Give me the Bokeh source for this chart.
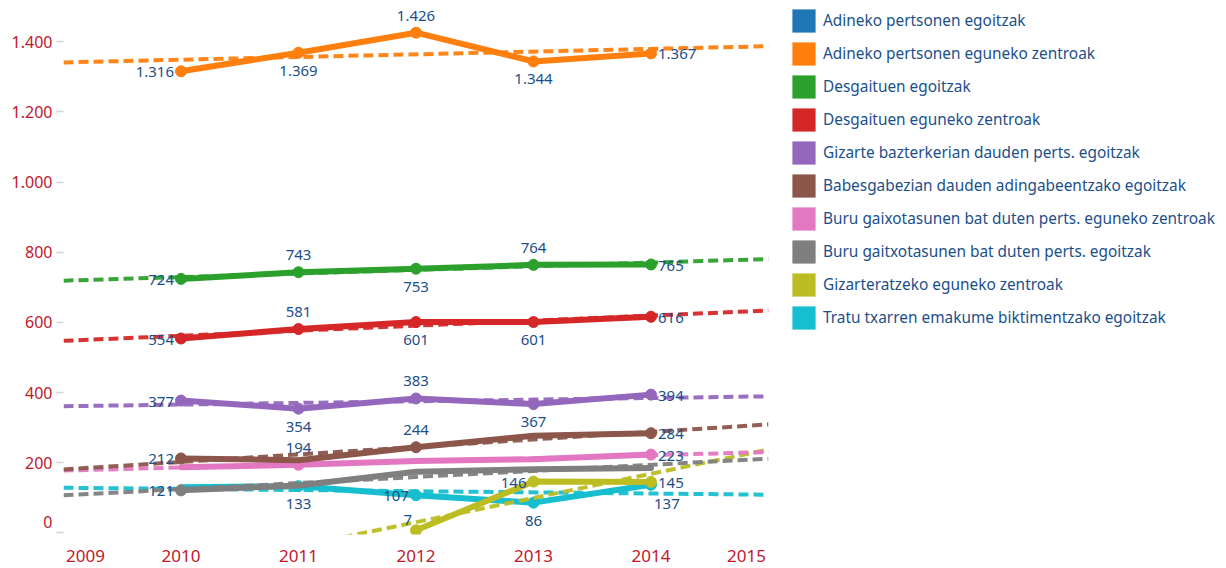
import numpy as np
from bokeh.plotting import figure
from bokeh.layouts import row
from bokeh.models import (ColumnDataSource, Legend, LegendItem, FixedTicker,
                          LinearAxis, Range1d)
from bokeh.embed import file_html
from bokeh.resources import INLINE
from bokeh.core.properties import value

# ---------------- data ----------------
years = [2010, 2011, 2012, 2013, 2014]

series_names = [
    "Adineko pertsonen egoitzak",
    "Adineko pertsonen eguneko zentroak",
    "Desgaituen egoitzak",
    "Desgaituen eguneko zentroak",
    "Gizarte bazterkerian dauden perts. egoitzak",
    "Babesgabezian dauden adingabeentzako egoitzak",
    "Buru gaixotasunen bat duten perts. eguneko zentroak",
    "Buru gaitxotasunen bat duten perts. egoitzak",
    "Gizarteratzeko eguneko zentroak",
    "Tratu txarren emakume biktimentzako egoitzak",
]

adineko_egoitzak = [None, None, None, None, None]
adineko_eguneko = [1316, 1369, 1426, 1344, 1367]
desgaituen_egoitzak = [724, 743, 753, 764, 765]
desgaituen_eguneko = [554, 581, 601, 601, 616]
gizarte_bazterkeria = [377, 354, 383, 367, 394]
babesgabezia = [212, 207, 244, 277, 284]
buru_eguneko = [187, 194, 205, 210, 223]
buru_egoitzak = [121, 135, 174, 181, 185]
gizarteratzeko = [None, None, 7, 146, 145]
tratu_txarrak = [130, 133, 107, 86, 137]

series_values = [adineko_egoitzak, adineko_eguneko, desgaituen_egoitzak,
                 desgaituen_eguneko, gizarte_bazterkeria, babesgabezia,
                 buru_eguneko, buru_egoitzak, gizarteratzeko, tratu_txarrak]

# label placement per point (None = no label / no marker)
place_adineko_egoitzak = [None] * 5
place_adineko_eguneko = ["left", "below", "above", "below", "right"]
place_desgaituen_egoitzak = ["left", "above", "below", "above", "right"]
place_desgaituen_eguneko = ["left", "above", "below", "below", "right"]
place_gizarte = ["left", "below", "above", "below", "right"]
place_babesgabezia = ["left", None, "above", None, "right"]
place_buru_eguneko = [None, "above", None, None, "right"]
place_buru_egoitzak = ["left", None, None, None, None]
place_gizarteratzeko = [None, None, "aboveleft", "left", "right"]
place_tratu = [None, "below", "left", "below", "belowright"]

series_places = [place_adineko_egoitzak, place_adineko_eguneko,
                 place_desgaituen_egoitzak, place_desgaituen_eguneko,
                 place_gizarte, place_babesgabezia, place_buru_eguneko,
                 place_buru_egoitzak, place_gizarteratzeko, place_tratu]

colors = ["#1f77b4", "#ff7f0e", "#2ca02c", "#d62728", "#9467bd",
          "#8c564b", "#e377c2", "#7f7f7f", "#bcbd22", "#17becf"]

x_tick_values = [2009, 2010, 2011, 2012, 2013, 2014, 2015]
x_tick_labels = ["2009", "2010", "2011", "2012", "2013", "2014", "2015"]
y_tick_values = [0, 200, 400, 600, 800, 1000, 1200, 1400]
y_tick_labels = ["0", "200", "400", "600", "800", "1.000", "1.200", "1.400"]

# ---------------- style ----------------
FONT = "Noto Sans"
AXIS_RED = "#c1172c"
LABEL_BLUE = "#1b4f8a"

W, H = 1226, 568
FRAME_L, FRAME_W, FRAME_R_BORDER = 63, 705, 2
FRAME_H = 534
MAIN_W = FRAME_L + FRAME_W + FRAME_R_BORDER
X0, X1 = 2009, 2015
Y0, Y1 = -4.85, 1517.8
EDGE_LABEL_SHIFT_PX = 22      # edge tick labels are pulled inside the plot
ZERO_LABEL_LIFT_PX = 10.5

placement_style = {
    "left": (-7, 1, "right"),
    "right": (7, 1, "left"),
    "above": (0, -17, "center"),
    "below": (0, 18, "center"),
    "aboveleft": (-4, -10, "right"),
    "belowright": (3, 19, "left"),
}

p = figure(width=MAIN_W, height=H, output_backend="svg", toolbar_location=None,
           x_range=Range1d(X0, X1), y_range=Range1d(Y0, Y1),
           min_border_left=FRAME_L, min_border_right=FRAME_R_BORDER,
           min_border_top=0, min_border_bottom=H - FRAME_H)
p.outline_line_color = None
p.grid.grid_line_color = None
p.background_fill_color = "white"

# separate panel that only holds the legend
pl = figure(width=W - MAIN_W, height=H, output_backend="svg", toolbar_location=None,
            x_range=Range1d(0, 1), y_range=Range1d(0, 1),
            x_axis_location=None, y_axis_location=None,
            min_border_left=13, min_border_right=0, min_border_top=0,
            min_border_bottom=0)
pl.outline_line_color = None
pl.grid.grid_line_color = None


def fmt(v):
    return f"{v:,}".replace(",", ".")


legend_items = []
for name, vals, col in zip(series_names, series_values, colors):
    # zero-size bars: only used to give the legend its colour swatch
    yv = [np.nan if v is None else v for v in vals]
    leg = pl.vbar(x=years, top=yv, bottom=yv, width=0, fill_color=col, line_color=None)
    legend_items.append(LegendItem(label=name, renderers=[leg]))

lab_x, lab_y, lab_t, lab_xo, lab_yo, lab_al = [], [], [], [], [], []
# earlier series are drawn on top, as in the original
for name, vals, places, col in reversed(list(zip(series_names, series_values,
                                                 series_places, colors))):
    xs = [x for x, v in zip(years, vals) if v is not None]
    ys = [v for v in vals if v is not None]
    if len(xs) < 2:
        continue
    p.line(xs, ys, line_color=col, line_width=6, line_join="round", line_cap="round")
    k, b = np.polyfit(xs, ys, 1)
    tx = [X0, X1]
    p.line(tx, [k * t + b for t in tx], line_color=col, line_width=4,
           line_dash="10 5", line_alpha=0.95)
    mx = [x for x, v, pl_ in zip(years, vals, places) if v is not None and pl_]
    my = [v for v, pl_ in zip(vals, places) if v is not None and pl_]
    p.scatter(mx, my, size=11, fill_color=col, line_color=col)
    for x, v, pl_ in zip(years, vals, places):
        if v is None or not pl_:
            continue
        xo, yo, al = placement_style[pl_]
        lab_x.append(x); lab_y.append(v); lab_t.append(fmt(v))
        lab_xo.append(xo); lab_yo.append(yo); lab_al.append(al)

lsrc = ColumnDataSource(dict(x=lab_x, y=lab_y, t=lab_t, xo=lab_xo, yo=lab_yo, al=lab_al))
p.text(x="x", y="y", text="t", x_offset="xo", y_offset="yo", text_align="al",
       text_baseline="middle", source=lsrc, text_color=LABEL_BLUE,
       text_font=value(FONT), text_font_size="15px")

# ---- x axis (edge labels pulled inward like the original) ----
x_px = FRAME_W / (X1 - X0)
x_label_pos = list(x_tick_values)
x_label_pos[0] = x_tick_values[0] + EDGE_LABEL_SHIFT_PX / x_px
x_label_pos[-1] = x_tick_values[-1] - EDGE_LABEL_SHIFT_PX / x_px
p.xaxis.ticker = FixedTicker(ticks=x_label_pos)
p.xaxis.major_label_overrides = dict(zip(x_label_pos, x_tick_labels))
p.xaxis.axis_line_color = None
p.xaxis.major_tick_line_color = None
p.xaxis.minor_tick_line_color = None
p.xaxis.major_tick_out = 0
p.xaxis.major_tick_in = 0
p.xaxis.major_label_standoff = 15
p.xaxis.major_label_text_line_height = 1.0
p.xaxis.major_label_text_color = AXIS_RED
p.xaxis.major_label_text_font = FONT
p.xaxis.major_label_text_font_size = "17px"

# ---- y axis: tick marks only ----
p.yaxis.ticker = FixedTicker(ticks=y_tick_values)
p.yaxis.major_label_overrides = {v: "" for v in y_tick_values}
p.yaxis.axis_line_color = None
p.yaxis.minor_tick_line_color = None
p.yaxis.major_tick_line_color = "#d4d4d4"
p.yaxis.major_tick_line_width = 1.5
p.yaxis.major_tick_out = 7
p.yaxis.major_tick_in = 0
p.yaxis.major_label_standoff = 0

# ---- y axis labels (bottom label lifted inside the plot) ----
y_px = FRAME_H / (Y1 - Y0)
y_label_pos = list(y_tick_values)
y_label_pos[0] = y_tick_values[0] + ZERO_LABEL_LIFT_PX / y_px
ylab = LinearAxis(ticker=FixedTicker(ticks=y_label_pos),
                  major_label_overrides=dict(zip(y_label_pos, y_tick_labels)),
                  axis_line_color=None, major_tick_line_color=None,
                  minor_tick_line_color=None, major_tick_out=0, major_tick_in=0,
                  major_label_standoff=4, major_label_text_color=AXIS_RED,
                  major_label_text_font=FONT, major_label_text_font_size="16px")
p.add_layout(ylab, "left")

legend = Legend(items=legend_items, location="top_left", orientation="vertical",
                glyph_width=29, glyph_height=29, spacing=4, label_standoff=5,
                padding=0, margin=6, label_width=396,
                border_line_color=None, background_fill_alpha=0,
                label_text_font=FONT, label_text_font_size="15.4px",
                label_text_color=LABEL_BLUE)
pl.add_layout(legend)

layout = row(p, pl, spacing=0)
open("out.html", "w").write(file_html(layout, INLINE))
